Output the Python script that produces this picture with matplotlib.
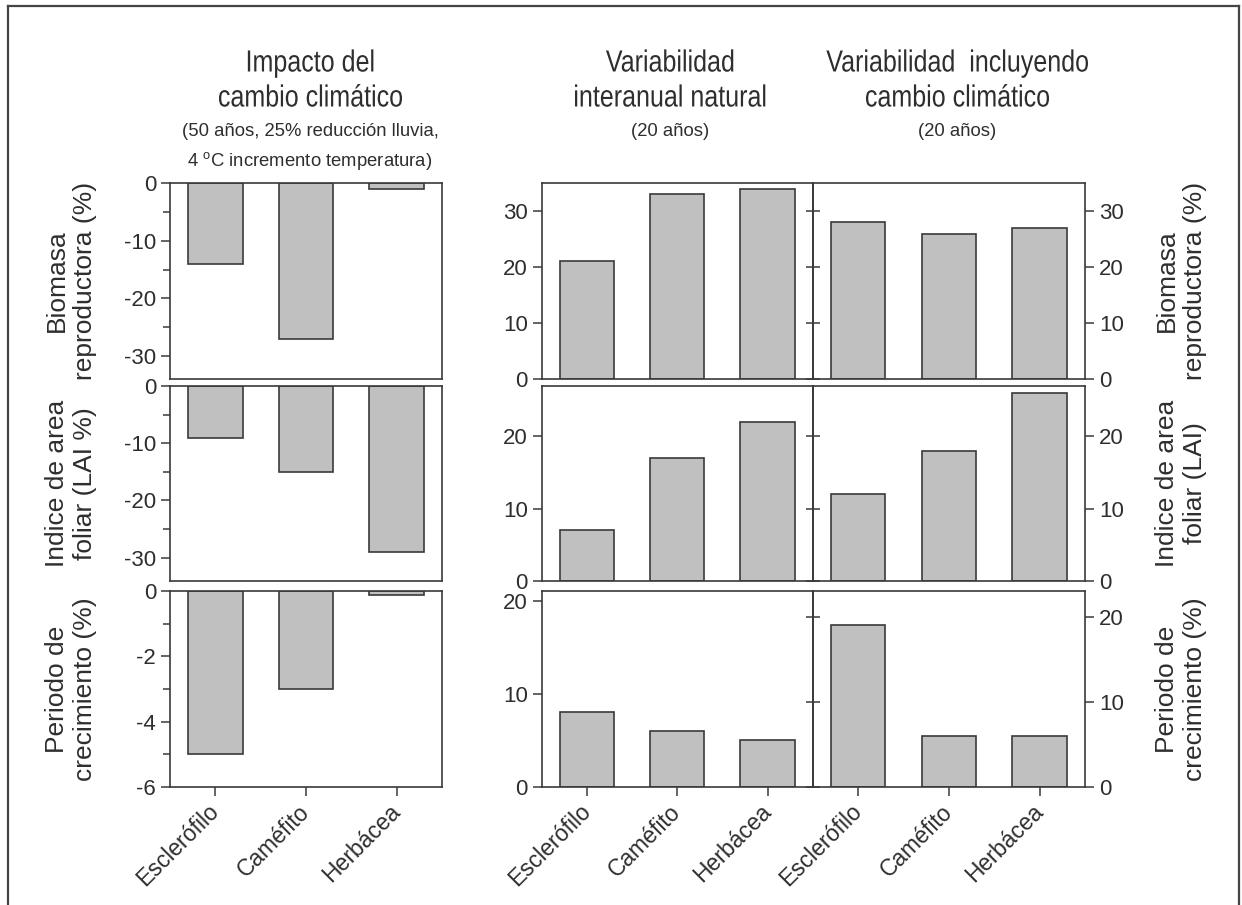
import matplotlib.pyplot as plt
from matplotlib.lines import Line2D
from matplotlib.patheffects import AbstractPathEffect
from matplotlib.ticker import MultipleLocator
from matplotlib.transforms import Affine2D

plt.rcParams['font.family'] = ['Liberation Sans', 'DejaVu Sans']
plt.rcParams['mathtext.fontset'] = 'custom'
plt.rcParams['mathtext.rm'] = 'Liberation Sans'
plt.rcParams['mathtext.it'] = 'Liberation Sans:italic'
plt.rcParams['axes.unicode_minus'] = False

W, H = 1242, 905
TXT = '#2e2e2e'
EDGE = '#3a3a3a'
BAR = '#c0c0c0'

# data (%)
categories = ['Esclerófilo', 'Caméfito', 'Herbácea']
impact_biomasa = [-14, -27, -1]
impact_lai = [-9, -15, -29]
impact_periodo = [-5, -3, -0.1]
natural_biomasa = [21, 33, 34]
natural_lai = [7, 17, 22]
natural_periodo = [8, 6, 5]
cambio_biomasa = [28, 26, 27]
cambio_lai = [12, 18, 26]
cambio_periodo = [19, 6, 6]

left_labels = ['Biomasa\nreproductora (%)', 'Indice de area\nfoliar (LAI %)',
               'Periodo de\ncrecimiento (%)']
right_labels = ['Biomasa\nreproductora (%)', 'Indice de area\nfoliar (LAI)',
                'Periodo de\ncrecimiento (%)']


class Condense(AbstractPathEffect):
    """squeeze a text path horizontally around x = cx (display px)"""

    def __init__(self, cx, factor=0.82):
        super().__init__()
        self.cx = cx
        self.factor = factor

    def draw_path(self, renderer, gc, tpath, affine, rgbFace=None):
        squeeze = Affine2D().translate(-self.cx, 0).scale(self.factor, 1).translate(self.cx, 0)
        renderer.draw_path(gc, tpath, affine + squeeze, rgbFace)


fig = plt.figure(figsize=(W / 100, H / 100), dpi=100)
fig.patch.set_facecolor('white')


def px_axes(x0, y0, x1, y1):
    return fig.add_axes([x0 / W, 1 - y1 / H, (x1 - x0) / W, (y1 - y0) / H])


def ftext(x, y, s, **kw):
    return fig.text(x / W, 1 - y / H, s, color=TXT, **kw)


def style(ax):
    for sp in ax.spines.values():
        sp.set_color(EDGE)
        sp.set_linewidth(1.2)
    ax.tick_params(axis='both', which='both', colors=EDGE, labelcolor=TXT,
                   labelsize=16, width=1.1, direction='out')
    ax.tick_params(which='major', length=6.5)
    ax.tick_params(which='minor', length=5)
    ax.set_xlim(-0.5, 2.5)


def bars(ax, vals):
    ax.bar(range(len(categories)), vals, width=0.6, color=BAR,
           edgecolor=EDGE, linewidth=1.2, zorder=2)


def xlabels(ax, show):
    if show:
        ax.set_xticks(range(len(categories)))
        ax.set_xticklabels(categories, rotation=45, ha='right', va='center',
                           rotation_mode='anchor', fontsize=16.5)
        ax.tick_params(axis='x', pad=9)
    else:
        ax.set_xticks([])


rows = [(183.3, 378.8), (386.0, 580.6), (591.3, 786.6)]
LX = (170, 442)
MX = (541.7, 812.7)
RX = (812.7, 1085)

impact = [impact_biomasa, impact_lai, impact_periodo]
natural = [natural_biomasa, natural_lai, natural_periodo]
cambio = [cambio_biomasa, cambio_lai, cambio_periodo]

impact_lim = [(-34, 0), (-34, 0), (-6, 0)]
impact_major = [10, 10, 2]
impact_minor = [5, 5, 1]
natural_lim = [(0, 35), (0, 27), (0, 21)]
cambio_lim = [(0, 35), (0, 27), (0, 23)]

for i, (y0, y1) in enumerate(rows):
    last = i == len(rows) - 1

    # impacto del cambio climatico
    ax = px_axes(LX[0], y0, LX[1], y1)
    style(ax)
    bars(ax, impact[i])
    ax.set_ylim(*impact_lim[i])
    ax.yaxis.set_major_locator(MultipleLocator(impact_major[i]))
    ax.yaxis.set_minor_locator(MultipleLocator(impact_minor[i]))
    xlabels(ax, last)
    ftext(71, (y0 + y1) / 2, left_labels[i], rotation=90, ha='center',
          va='center', multialignment='center', fontsize=19, linespacing=1.22)

    # variabilidad natural
    ax = px_axes(MX[0], y0, MX[1], y1)
    style(ax)
    bars(ax, natural[i])
    ax.set_ylim(*natural_lim[i])
    ax.yaxis.set_major_locator(MultipleLocator(10))
    xlabels(ax, last)

    # variabilidad con cambio climatico
    ax = px_axes(RX[0], y0, RX[1], y1)
    style(ax)
    bars(ax, cambio[i])
    ax.set_ylim(*cambio_lim[i])
    ax.yaxis.set_major_locator(MultipleLocator(10))
    ax.tick_params(axis='y', left=False, labelleft=False, right=True, labelright=True)
    xlabels(ax, last)
    sec = ax.secondary_yaxis('left')
    sec.spines['left'].set_color(EDGE)
    sec.spines['left'].set_linewidth(1.2)
    sec.yaxis.set_major_locator(MultipleLocator(10))
    sec.tick_params(axis='y', direction='inout', length=10, width=1.1,
                    colors=EDGE, labelleft=False)
    ftext(1181, (y0 + y1) / 2, right_labels[i], rotation=90, ha='center',
          va='center', multialignment='center', fontsize=19, linespacing=1.22)

# column titles
titles = [
    (310, ['Impacto del', 'cambio climático'],
     ['(50 años, 25% reducción lluvia,', '4 $^{\\mathrm{o}}$C incremento temperatura)']),
    (670, ['Variabilidad', 'interanual natural'], ['(20 años)']),
    (957, ['Variabilidad  incluyendo', 'cambio climático'], ['(20 años)']),
]
for cx, main, sub in titles:
    for k, line in enumerate(main):
        ftext(cx, 71.5 + 35 * k, line, ha='center', va='baseline', fontsize=22,
              path_effects=[Condense(cx, 0.82)])
    for k, line in enumerate(sub):
        ftext(cx, 135.5 + 30.5 * k, line, ha='center', va='baseline', fontsize=13.3)

# outer frame (open at the bottom, as in the scan)
frame = dict(color='#444444', linewidth=1.6, transform=fig.transFigure)
fig.add_artist(Line2D([7.5 / W, 7.5 / W], [0, 1 - 6 / H], **frame))
fig.add_artist(Line2D([7.5 / W, 1239 / W], [1 - 6 / H, 1 - 6 / H], **frame))
fig.add_artist(Line2D([1239 / W, 1239 / W], [0, 1 - 6 / H], **frame))

fig.savefig('out.png', dpi=100)
